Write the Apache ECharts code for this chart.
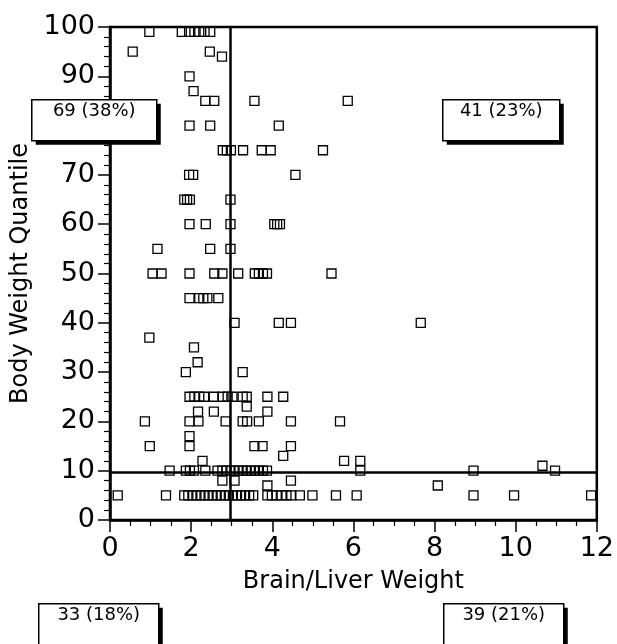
<!DOCTYPE html>
<html>
<head>
<meta charset="utf-8">
<title>Body Weight Quantile vs Brain/Liver Weight</title>
<script src="https://cdn.jsdelivr.net/npm/echarts@6/dist/echarts.min.js"></script>
<style>
  html, body { margin: 0; padding: 0; background: #fff; }
  #chart { width: 617px; height: 644px; }
</style>
</head>
<body>
<div id="chart"></div>
<script>
var FONT = 'DejaVu Sans';

// quantile rows and the brain/liver ratios sitting on each row
var quantileLevels = [99, 95, 94, 90, 87, 85, 80, 75, 70, 65, 60, 55, 50, 45, 40, 37, 35, 32, 30,
  25, 23, 22, 20, 17, 15, 13, 12, 11, 10, 8, 7, 5];
var ratiosAtLevel = [
  [0.97, 1.77, 1.95, 2.08, 2.2, 2.33, 2.47],
  [0.56, 2.46],
  [2.76],
  [1.96],
  [2.06],
  [2.35, 2.57, 3.56, 5.86],
  [1.96, 2.47, 4.16],
  [2.78, 2.88, 2.98, 3.28, 3.74, 3.96, 5.25],
  [1.95, 2.05, 4.57],
  [1.83, 1.9, 1.97, 2.97],
  [1.96, 2.36, 2.97, 4.05, 4.12, 4.19],
  [1.17, 2.47, 2.97],
  [1.05, 1.27, 1.96, 2.57, 2.77, 3.16, 3.57, 3.67, 3.77, 3.87, 5.46],
  [1.96, 2.2, 2.3, 2.4, 2.67],
  [3.07, 4.16, 4.46, 7.66],
  [0.97],
  [2.07],
  [2.16],
  [1.87, 3.27],
  [1.96, 2.08, 2.2, 2.32, 2.56, 2.77, 2.9, 3.02, 3.27, 3.37, 3.88, 4.27],
  [3.37],
  [2.17, 2.56, 3.88],
  [0.86, 1.96, 2.18, 2.85, 3.27, 3.38, 3.67, 4.46, 5.67],
  [1.96],
  [0.98, 1.96, 3.56, 3.76, 4.46],
  [4.27],
  [2.28, 5.77, 6.17],
  [10.66],
  [1.47, 1.87, 1.97, 2.07, 2.35, 2.65, 2.77, 2.87, 2.97, 3.07, 3.17, 3.27, 3.37, 3.47, 3.57,
    3.67, 3.77, 3.87, 6.17, 8.96, 10.97],
  [2.77, 3.07, 4.46],
  [3.88, 8.08],
  [0.19, 1.38, 1.83, 1.93, 2.03, 2.13, 2.23, 2.33, 2.43, 2.53, 2.63, 2.73, 2.83, 2.93, 3.03,
    3.13, 3.23, 3.33, 3.43, 3.53, 3.88, 3.99, 4.11, 4.23, 4.35, 4.47, 4.68, 4.99, 5.57, 6.08,
    8.96, 9.96, 11.86]
];

// cut lines splitting the plot into quadrants
var ratioCut = 2.97;
var quantileCut = 9.74;

// quadrant counts: upper left, upper right, lower left, lower right
var quadrantLabels = ['69 (38%)', '41 (23%)', '33 (18%)', '39 (21%)'];

var points = [];
quantileLevels.forEach(function (q, i) {
  ratiosAtLevel[i].forEach(function (r) {
    points.push([r, q]);
  });
});

// white box with a hard black drop shadow, sits on top of the axes
function countBox(left, top, width, text) {
  return {
    type: 'group',
    left: left,
    top: top,
    children: [
      {
        type: 'rect',
        z: 100,
        shape: { x: 4, y: 4, width: width, height: 41 },
        style: { fill: '#000' }
      },
      {
        type: 'rect',
        z: 101,
        shape: { x: 0, y: 0, width: width, height: 41 },
        style: { fill: '#fff', stroke: '#000', lineWidth: 1.5 }
      },
      {
        type: 'text',
        z: 102,
        x: width / 2,
        y: 3,
        style: {
          text: text,
          fill: '#000',
          font: '18px "' + FONT + '"',
          textAlign: 'center',
          textVerticalAlign: 'top'
        }
      }
    ]
  };
}

var chart = echarts.init(document.getElementById('chart'));

chart.setOption({
  animation: false,
  backgroundColor: '#fff',
  grid: {
    left: 110,
    right: 15,
    top: 27,
    bottom: 124,
    show: true,
    borderColor: '#000',
    borderWidth: 2.5,
    containLabel: false
  },
  xAxis: {
    type: 'value',
    min: 0,
    max: 12,
    interval: 2,
    name: 'Brain/Liver Weight',
    nameLocation: 'middle',
    nameGap: 50,
    nameTextStyle: { fontFamily: FONT, fontSize: 24, color: '#000' },
    axisLine: { show: true, onZero: false, lineStyle: { color: '#000', width: 2.5 } },
    axisTick: { show: true, inside: false, length: 12, lineStyle: { color: '#000', width: 1.5 } },
    minorTick: { show: true, splitNumber: 4, length: 6, lineStyle: { color: '#000', width: 1.2 } },
    axisLabel: { fontFamily: FONT, fontSize: 27, color: '#000', margin: 15 },
    splitLine: { show: false },
    minorSplitLine: { show: false }
  },
  yAxis: {
    type: 'value',
    min: 0,
    max: 100,
    interval: 10,
    name: 'Body Weight Quantile',
    nameLocation: 'middle',
    nameGap: 73,
    nameTextStyle: { fontFamily: FONT, fontSize: 24, color: '#000' },
    axisLine: { show: true, onZero: false, lineStyle: { color: '#000', width: 2.5 } },
    axisTick: { show: true, inside: false, length: 12, lineStyle: { color: '#000', width: 1.5 } },
    minorTick: { show: true, splitNumber: 5, length: 6, lineStyle: { color: '#000', width: 1.2 } },
    axisLabel: { fontFamily: FONT, fontSize: 27, color: '#000', margin: 15 },
    splitLine: { show: false },
    minorSplitLine: { show: false }
  },
  series: [
    {
      type: 'scatter',
      data: points,
      symbol: 'rect',
      symbolSize: 9,
      itemStyle: { color: 'rgba(0,0,0,0)', borderColor: '#000', borderWidth: 1.3, opacity: 1 },
      emphasis: { disabled: true },
      markLine: {
        silent: true,
        symbol: ['none', 'none'],
        label: { show: false },
        lineStyle: { color: '#000', width: 2.5, type: 'solid' },
        data: [{ xAxis: ratioCut }, { yAxis: quantileCut }]
      }
    }
  ],
  graphic: [
    countBox(31, 99, 125, quadrantLabels[0]),
    countBox(442, 99, 117, quadrantLabels[1]),
    countBox(38, 603, 120, quadrantLabels[2]),
    countBox(443, 603, 120, quadrantLabels[3])
  ]
});
</script>
</body>
</html>
